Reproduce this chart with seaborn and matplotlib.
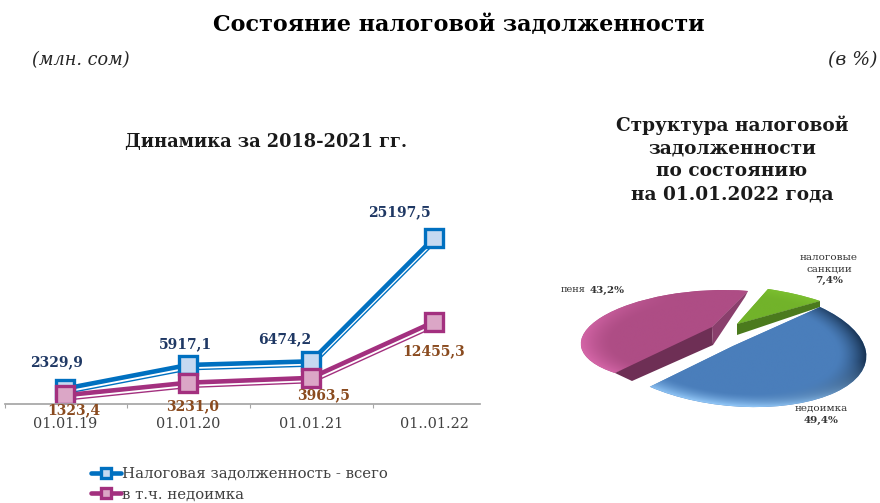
import numpy as np
import pandas as pd
import seaborn as sns
import matplotlib
matplotlib.use("Agg")
import matplotlib.pyplot as plt
import matplotlib.patheffects as pe
from matplotlib.colors import to_rgb
from matplotlib.transforms import Affine2D

# Data
dates = ["01.01.19", "01.01.20", "01.01.21", "01..01.22"]
debt_total = [2329.9, 5917.1, 6474.2, 25197.5]
debt_arrears = [1323.4, 3231.0, 3963.5, 12455.3]
total_labels = ["2329,9", "5917,1", "6474,2", "25197,5"]
arrears_labels = ["1323,4", "3231,0", "3963,5", "12455,3"]
series_names = ["Налоговая задолженность - всего", "в т.ч. недоимка"]

pie_values = [49.4, 43.2, 7.4]

W, H = 880, 503
SERIF = "DejaVu Serif"

sns.set_theme(style="white")
plt.rcParams["font.family"] = [SERIF, "DejaVu Sans"]

fig = plt.figure(figsize=(W / 100, H / 100), dpi=100)
fig.patch.set_facecolor("white")

# Line chart, placed so that 0 is at pixel row 404
ax = fig.add_axes([5 / W, (H - 404) / H, 475 / W, 204 / H])
ax.patch.set_alpha(0)

blue, pink = "#0070c0", "#a3307f"
df = pd.DataFrame({"date": dates, "total": debt_total, "arrears": debt_arrears})

# thin companion lines under the thick ones
for col, c in [("total", blue), ("arrears", pink)]:
    sns.lineplot(data=df, x="date", y=col, ax=ax, sort=False, color=c, lw=1, legend=False,
                 path_effects=[pe.SimpleLineShadow(offset=(1, -3.4), shadow_color=c, alpha=1, rho=1)])

sns.lineplot(data=df, x="date", y="total", ax=ax, sort=False, color=blue, lw=3.3,
             marker="s", ms=13, mfc="#c6d9f1", mec=blue, mew=2.4, label=series_names[0])
sns.lineplot(data=df, x="date", y="arrears", ax=ax, sort=False, color=pink, lw=3.3,
             marker="s", ms=13, mfc="#dba6c6", mec=pink, mew=2.4, label=series_names[1])

ax.set_xlim(-0.488, 3.374)
ax.set_ylim(0, 30950)
ax.set_xlabel("")
ax.set_ylabel("")
ax.set_yticks([])
ax.set_xticks(range(4), dates, fontsize=10.4, color="#404040")
ax.set_xticks([-0.488, 0.5, 1.5, 2.5], minor=True)
ax.tick_params(axis="x", which="major", length=0, pad=9)
ax.tick_params(axis="x", which="minor", length=3, width=0.8, color="#a6a6a6", bottom=True)
for side in ["top", "left", "right"]:
    ax.spines[side].set_visible(False)
ax.spines["bottom"].set_color("#a6a6a6")

# Label offsets in pixels from their points
total_off = [(-9, 26), (-3, 21), (-26, 22), (-35, 26)]
arrears_off = [(9, -15), (5, -23), (12, -17), (0, -29)]
for i in range(4):
    ax.annotate(total_labels[i], (i, debt_total[i]), xytext=total_off[i], textcoords="offset pixels",
                ha="center", va="center", fontsize=10, fontweight="bold", color="#1f3864")
    ax.annotate(arrears_labels[i], (i, debt_arrears[i]), xytext=arrears_off[i], textcoords="offset pixels",
                ha="center", va="center", fontsize=10, fontweight="bold", color="#8a4b1f")

ax.legend(loc="upper left", bbox_to_anchor=(91 / W, (H - 467) / H), bbox_transform=fig.transFigure,
          frameon=False, fontsize=10.7, handlelength=2.0, handletextpad=0.1, labelspacing=0.45,
          borderpad=0, borderaxespad=0, labelcolor="#404040", markerscale=0.5)

# Pie in an overlay axes counted in pixels
pa = fig.add_axes([0, 0, 1, 1], zorder=5)
pa.patch.set_alpha(0)
wedges, _ = pa.pie(pie_values, startangle=0, counterclock=True, normalize=True,
                   colors=["#4a7ebb", "#ae4d85", "#72b32a"], wedgeprops={"linewidth": 0})
angles = np.cumsum([0] + pie_values) / sum(pie_values) * 360


def fit(apex, end1, end2, a1, a2):
    # matrix sending the unit circle points at angles a1, a2 to the points end1, end2
    a1, a2 = np.radians(a1), np.radians(a2)
    p = np.array([end1, end2], dtype=float).T - np.array(apex, dtype=float)[:, None]
    m = p @ np.linalg.inv(np.array([[np.cos(a1), np.cos(a2)], [np.sin(a1), np.sin(a2)]]))
    return Affine2D.from_values(m[0, 0], m[1, 0], m[0, 1], m[1, 1], apex[0], apex[1])


def shade(wedge, tr, base, dark_dir, dark, light_dir, light, z, start=0.72):
    g = np.linspace(-1, 1, 300)
    x, y = np.meshgrid(g, g)
    r = np.hypot(x, y)
    th = np.arctan2(y, x)
    edge = np.clip((r - start) / (1 - start), 0, 1) ** 1.5
    wd = edge * np.clip(np.cos(th - np.radians(dark_dir)), 0, 1)
    wl = edge * np.clip(np.cos(th - np.radians(light_dir)), 0, 1)
    img = np.ones(x.shape + (3,)) * np.array(to_rgb(base))
    img = img * (1 - wd[..., None]) + np.array(to_rgb(dark)) * wd[..., None]
    img = img * (1 - wl[..., None]) + np.array(to_rgb(light)) * wl[..., None]
    im = pa.imshow(img, extent=(-1, 1, -1, 1), origin="lower", aspect="auto", zorder=z,
                   transform=tr + pa.transData, interpolation="bilinear")
    im.set_clip_path(wedge)


blue_tr = Affine2D.from_values(87, -39, 101, 47, 733, 346)
# pink wedge: the ellipse centre sits behind the visible corner
pink_centre = (703, 336)
pink_corner = (712, 327)
pink_e1, pink_e2 = (615, 373), (748, 291)
pink_tr = fit(pink_centre, pink_e1, pink_e2, angles[1], angles[2])
green_apex = (737, 324)
green_e1, green_e2 = (820, 301), (768, 289)
green_tr = fit(green_apex, green_e1, green_e2, angles[2], angles[3])

for w, tr, z in zip(wedges, [blue_tr, pink_tr, green_tr], [6, 3, 2]):
    w.set_transform(tr + pa.transData)
    w.set_zorder(z)

shade(wedges[0], blue_tr, "#4a7ebb", 45, "#16304f", 145, "#93c8f8", 7, start=0.78)
shade(wedges[1], pink_tr, "#ae4d85", 300, "#ae4d85", 205, "#d566a8", 3.2, start=0.75)
shade(wedges[2], green_tr, "#72b32a", 340, "#72b32a", 350, "#7cc030", 2.2)

# Dark side faces follow the wedge corners
cx, cy = pink_corner
pa.fill([cx, cx + 1, pink_e1[0] + 17, pink_e1[0]], [cy, cy + 18, pink_e1[1] + 8, pink_e1[1]],
        color="#6e2f55", lw=0, zorder=3.5)
pa.fill([cx, pink_e2[0], pink_e2[0] - 3, cx + 1], [cy, pink_e2[1], pink_e2[1] + 6, cy + 18],
        color="#8a3f6c", lw=0, zorder=3.5)
pa.fill([green_apex[0], green_apex[0], green_e1[0], green_e1[0]],
        [green_apex[1], green_apex[1] + 11, green_e1[1] + 6, green_e1[1]],
        color="#4b7a1d", lw=0, zorder=2.5)

pa.set_aspect("auto")
pa.set_xlim(0, W)
pa.set_ylim(H, 0)
pa.axis("off")


def label(x, y, s, **kw):
    kw.setdefault("color", "black")
    pa.text(x, y, s, ha=kw.pop("ha", "center"), va="center", zorder=10, **kw)


label(459, 25, "Состояние налоговой задолженности", fontsize=16, fontweight="bold")
label(32, 60, "(млн. сом)", fontsize=12.7, style="italic", ha="left", color="#262626")
label(878, 60, "(в %)", fontsize=13.5, style="italic", ha="right", color="#262626")
label(266, 142, "Динамика за 2018-2021 гг.", fontsize=12.8, fontweight="bold", color="#1a1a1a")
for yy, s in zip([125, 148, 171, 194],
                 ["Структура налоговой", "задолженности", "по состоянию", "на 01.01.2022 года"]):
    label(732, yy, s, fontsize=13.3, fontweight="bold", color="#1a1a1a")

label(829, 257, "налоговые", fontsize=7.5, color="#333333")
label(829, 269, "санкции", fontsize=7.5, color="#333333")
label(829, 280, "7,4%", fontsize=7.5, fontweight="bold", color="#333333")
label(561, 290, "пеня", fontsize=7, ha="left", color="#333333")
label(590, 290, "43,2%", fontsize=7.5, fontweight="bold", ha="left", color="#333333")
label(821, 408, "недоимка", fontsize=7.5, color="#333333")
label(821, 420, "49,4%", fontsize=7.5, fontweight="bold", color="#333333")

fig.savefig("out.png", dpi=100)
